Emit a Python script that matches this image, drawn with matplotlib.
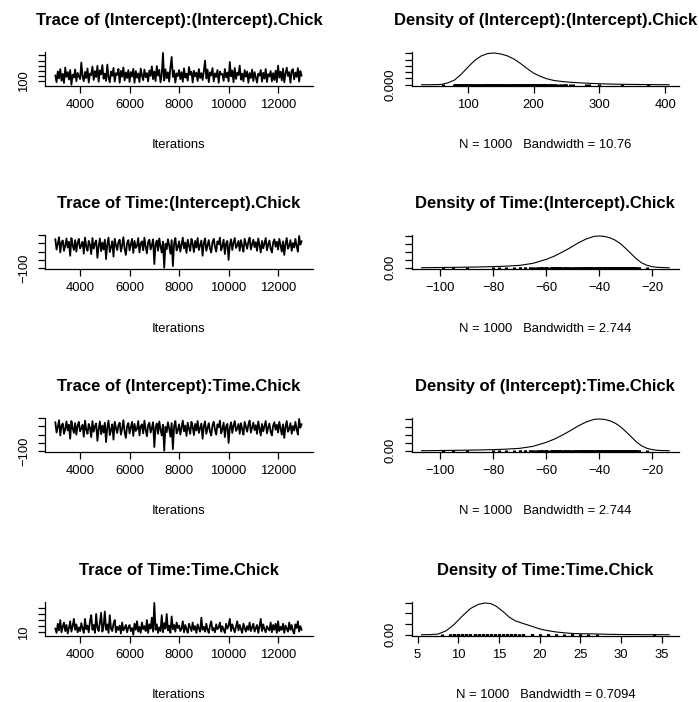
import numpy as np
import matplotlib
matplotlib.use("Agg")
import matplotlib.pyplot as plt

plt.rcParams['font.family'] = ['Liberation Sans', 'DejaVu Sans']

W, H = 699, 702

# --- MCMC samples (every 50th iteration from 3001) ---
trace_int_int = [
    152, 87, 193, 124, 216, 101, 168, 79, 231, 139, 186, 113, 207, 62, 161, 133, 212, 96, 178, 146,
    118, 280, 143, 97, 188, 127, 222, 84, 172, 156, 241, 109, 196, 137, 247, 91, 203, 164, 255, 121,
    171, 99, 260, 134, 86, 191, 149, 227, 93, 176, 158, 217, 82, 198, 141, 232, 104, 183, 128, 206,
    89, 187, 142, 218, 81, 197, 131, 173, 88, 221, 154, 107, 211, 136, 177, 94, 202, 148, 242, 116,
    192, 98, 246, 151, 208, 85, 163, 374, 103, 214, 126, 184, 92, 233, 335, 138, 201, 83, 174, 147,
    206, 117, 186, 91, 223, 132, 171, 102, 236, 159, 189, 84, 199, 144, 181, 97, 216, 129, 176, 108,
    196, 300, 123, 211, 87, 184, 153, 226, 95, 174, 139, 207, 81, 191, 162, 169, 99, 217, 134, 182,
    93, 285, 145, 201, 86, 227, 119, 181, 157, 250, 112, 171, 96, 206, 141, 192, 82, 176, 128, 211,
    97, 186, 135, 83, 171, 151, 207, 92, 179, 122, 216, 88, 166, 143, 197, 94, 176, 108, 201, 87,
    250, 131, 191, 104, 221, 86, 168, 230, 147, 186, 81, 201, 215, 114, 181, 139, 225, 92, 196, 152,
]

trace_time_int = [
    -30, -55, -41, -25, -62, -38, -33, -58, -46, -28, -50, -36, -70, -27, -44, -56, -32, -60, -39, -29,
    -52, -45, -36, -65, -26, -48, -58, -34, -43, -66, -27, -53, -40, -33, -75, -47, -28, -59, -38, -55,
    -31, -78, -42, -26, -61, -49, -35, -72, -29, -44, -56, -37, -31, -60, -45, -25, -54, -68, -39, -32,
    -57, -43, -29, -63, -34, -51, -46, -27, -62, -40, -35, -57, -26, -48, -64, -37, -31, -55, -44, -30,
    -90, -42, -33, -58, -28, -47, -62, -36, -99, -41, -54, -30, -45, -65, -32, -95, -39, -27, -57, -49,
    -35, -60, -43, -26, -52, -38, -63, -31, -46, -58, -29, -41, -61, -34, -50, -27, -56, -44, -33, -70,
    -39, -28, -58, -45, -32, -53, -62, -37, -29, -48, -60, -35, -42, -26, -57, -47, -31, -66, -40, -34,
    -80, -44, -30, -56, -38, -27, -51, -45, -34, -58, -32, -47, -60, -29, -41, -53, -36, -26, -55, -43,
    -31, -49, -37, -58, -28, -45, -62, -34, -52, -40, -27, -57, -43, -33, -53, -62, -38, -30, -48, -36,
    -55, -29, -44, -60, -35, -68, -41, -27, -53, -46, -32, -58, -39, -50, -29, -47, -60, -22, -43, -35,
]

trace_time_time = [
    13, 9.5, 17, 11.5, 20, 10, 14.5, 18, 11, 16, 9, 13.5, 19, 10.5, 15, 21, 12, 16.5, 10, 14,
    11, 17.5, 13, 9.5, 21, 12.5, 15.5, 10, 19, 24, 12, 16, 9.5, 25, 13.5, 11, 18, 26, 10.5, 15,
    27, 12, 16.5, 9.5, 24, 13, 11, 17, 20, 10, 14.5, 12, 15.5, 9, 18, 11.5, 13.5, 16, 10, 14,
    16, 11, 13.5, 8, 17, 12, 19, 10.5, 14.5, 9.5, 18, 12.5, 15, 11, 20, 9.5, 16.5, 13, 22, 10.5,
    34, 12, 16.5, 9.5, 14, 11, 24, 10, 17.5, 13, 25, 11.5, 15.5, 9.5, 23, 12.5, 16, 10.5, 18, 13.5,
    15.5, 11, 13, 19, 10, 16, 12.5, 9.5, 17, 14, 11, 18, 12, 15, 9.5, 16.5, 13, 10.5, 22, 12,
    14.5, 10.5, 17, 12, 9.5, 15.5, 19, 11.5, 13.5, 10, 16.5, 12.5, 14, 18, 10.5, 15, 12, 9.5, 17, 13,
    15.5, 21, 11, 16.5, 13, 10, 14.5, 19, 11.5, 16, 12.5, 9.5, 17, 13.5, 10.5, 15, 12, 18, 11, 14,
    17, 10.5, 13.5, 16, 9.5, 14.5, 21, 11, 16.5, 12.5, 10, 15, 13, 11.5, 18, 10, 16, 12, 17, 9.5,
    19, 11, 14.5, 12, 17, 9.5, 15.5, 13, 10.5, 18, 12, 16, 11, 9, 16.5, 13.5, 19, 10.5, 15, 12,
]

# --- Density curves ---
dens1_x = [30, 50, 60, 70, 80, 90, 100, 110, 120, 130, 140, 150, 160, 170, 180, 190, 200,
           210, 220, 230, 240, 255, 270, 290, 310, 330, 350, 370, 390, 406]
dens1_y = [0, 0.00002, 0.0001, 0.0006, 0.0015, 0.0033, 0.0055, 0.0076, 0.0091, 0.0099, 0.0101,
           0.0098, 0.0092, 0.0082, 0.0068, 0.0052, 0.0037, 0.0027, 0.0019, 0.0014, 0.0011, 0.0008,
           0.0006, 0.0004, 0.00025, 0.00015, 0.0001, 0.00005, 0.00002, 0]

dens2_x = [-107, -100, -95, -90, -85, -80, -75, -70, -65, -60, -57, -54, -51, -48, -45, -42, -40,
           -38, -36, -34, -32, -30, -28, -26, -24, -22, -20, -18, -15, -13.7]
dens2_y = [0, 0.0003, 0.0005, 0.0007, 0.001, 0.0014, 0.002, 0.003, 0.0055, 0.0105, 0.0145, 0.0195,
           0.025, 0.031, 0.036, 0.0393, 0.0398, 0.0392, 0.0375, 0.0345, 0.03, 0.024, 0.0175, 0.011,
           0.006, 0.003, 0.0013, 0.0005, 0.0001, 0]

dens4_x = [5.5, 6.5, 7.5, 8.5, 9.5, 10.5, 11.5, 12.5, 13.3, 14.0, 14.7, 15.5, 16.3, 17.0, 18.0,
           19.0, 20.0, 21.0, 22.0, 23.0, 24.0, 25.0, 26.0, 27.0, 28.5, 30, 32, 34, 35.9]
dens4_y = [0, 0.0005, 0.003, 0.018, 0.048, 0.087, 0.122, 0.142, 0.148, 0.145, 0.132, 0.108, 0.081,
           0.065, 0.052, 0.04, 0.027, 0.019, 0.013, 0.009, 0.006, 0.0045, 0.0042, 0.0035, 0.002,
           0.001, 0.0005, 0.0002, 0]

names = ["(Intercept):(Intercept).Chick", "Time:(Intercept).Chick",
         "(Intercept):Time.Chick", "Time:Time.Chick"]
traces = [trace_int_int, trace_time_int, trace_time_int, trace_time_time]
dens_x = [dens1_x, dens2_x, dens2_x, dens4_x]
dens_y = [dens1_y, dens2_y, dens2_y, dens4_y]
bandwidths = ["10.76", "2.744", "2.744", "0.7094"]

trace_yticks = [[100, 150, 200, 250, 300, 350], [-100, -80, -60, -40, -20],
                [-100, -80, -60, -40, -20], [10, 15, 20, 25, 30]]
dens_xticks = [[100, 200, 300, 400], [-100, -80, -60, -40, -20],
               [-100, -80, -60, -40, -20], [5, 10, 15, 20, 25, 30, 35]]
dens_yticks = [[0, 0.002, 0.004, 0.006, 0.008, 0.010], [0, 0.01, 0.02, 0.03, 0.04],
               [0, 0.01, 0.02, 0.03, 0.04], [0, 0.05, 0.10, 0.15]]
dens_ylab = ["0.000", "0.00", "0.00", "0.00"]

# --- layout in pixels ---
col_left = [45.4, 411.7]
ax_w = 267.3
ax_h = 34.3
row_base = [86, 269, 452, 636]


def r_range(lo, hi):
    d = hi - lo
    return lo - 0.04 * d, hi + 0.04 * d


def style(ax, yticks, ylab, tick_fs=9.4):
    ax.spines['top'].set_visible(False)
    ax.spines['right'].set_visible(False)
    for s in ('left', 'bottom'):
        ax.spines[s].set_linewidth(0.9)
    ax.set_yticks(yticks)
    ax.set_yticklabels([ylab] + [''] * (len(yticks) - 1))
    ax.tick_params(axis='both', length=5, width=0.9, labelsize=tick_fs, direction='out')
    ax.tick_params(axis='x', pad=4.5)
    ax.tick_params(axis='y', pad=6, labelrotation=90)
    for lab in ax.get_yticklabels():
        lab.set_va('center')


fig = plt.figure(figsize=(W / 100, H / 100), dpi=100)

for i in range(4):
    base = row_base[i]
    vals = traces[i]
    iters = 3001 + 50 * np.arange(len(vals))

    # trace
    ax = fig.add_axes([col_left[0] / W, 1 - base / H, ax_w / W, ax_h / H])
    ax.plot(iters, vals, color='black', lw=1.3)
    ax.set_xlim(2600, 13400)
    ax.set_ylim(*r_range(min(vals), max(vals)))
    ax.set_xticks([4000, 6000, 8000, 10000, 12000])
    style(ax, trace_yticks[i], str(trace_yticks[i][0]).replace('-', '\u2212'))
    fig.text((col_left[0] + ax_w / 2) / W, 1 - (base - 61) / H,
             "Trace of " + names[i], ha='center', va='baseline',
             fontsize=12.0, fontweight='bold')
    fig.text((col_left[0] + ax_w / 2) / W, 1 - (base + 62.5) / H,
             "Iterations", ha='center', va='baseline', fontsize=9.4)

    # density with the samples marked along the base
    ax = fig.add_axes([col_left[1] / W, 1 - base / H, ax_w / W, ax_h / H])
    ax.plot(dens_x[i], dens_y[i], color='black', lw=0.8)
    top = max(dens_y[i])
    ax.vlines(vals, -0.04 * top, 0.03 * top, color='black', lw=2.2)
    ax.set_xlim(*r_range(min(dens_x[i]), max(dens_x[i])))
    ax.set_ylim(*r_range(0, top))
    ax.set_xticks(dens_xticks[i])
    style(ax, dens_yticks[i], dens_ylab[i])
    fig.text((col_left[1] + ax_w / 2) / W, 1 - (base - 61) / H,
             "Density of " + names[i], ha='center', va='baseline',
             fontsize=12.0, fontweight='bold')
    fig.text((col_left[1] + ax_w / 2) / W, 1 - (base + 62.5) / H,
             "N = 1000   Bandwidth = " + bandwidths[i], ha='center', va='baseline',
             fontsize=9.4)

fig.savefig("out.png", dpi=100)
